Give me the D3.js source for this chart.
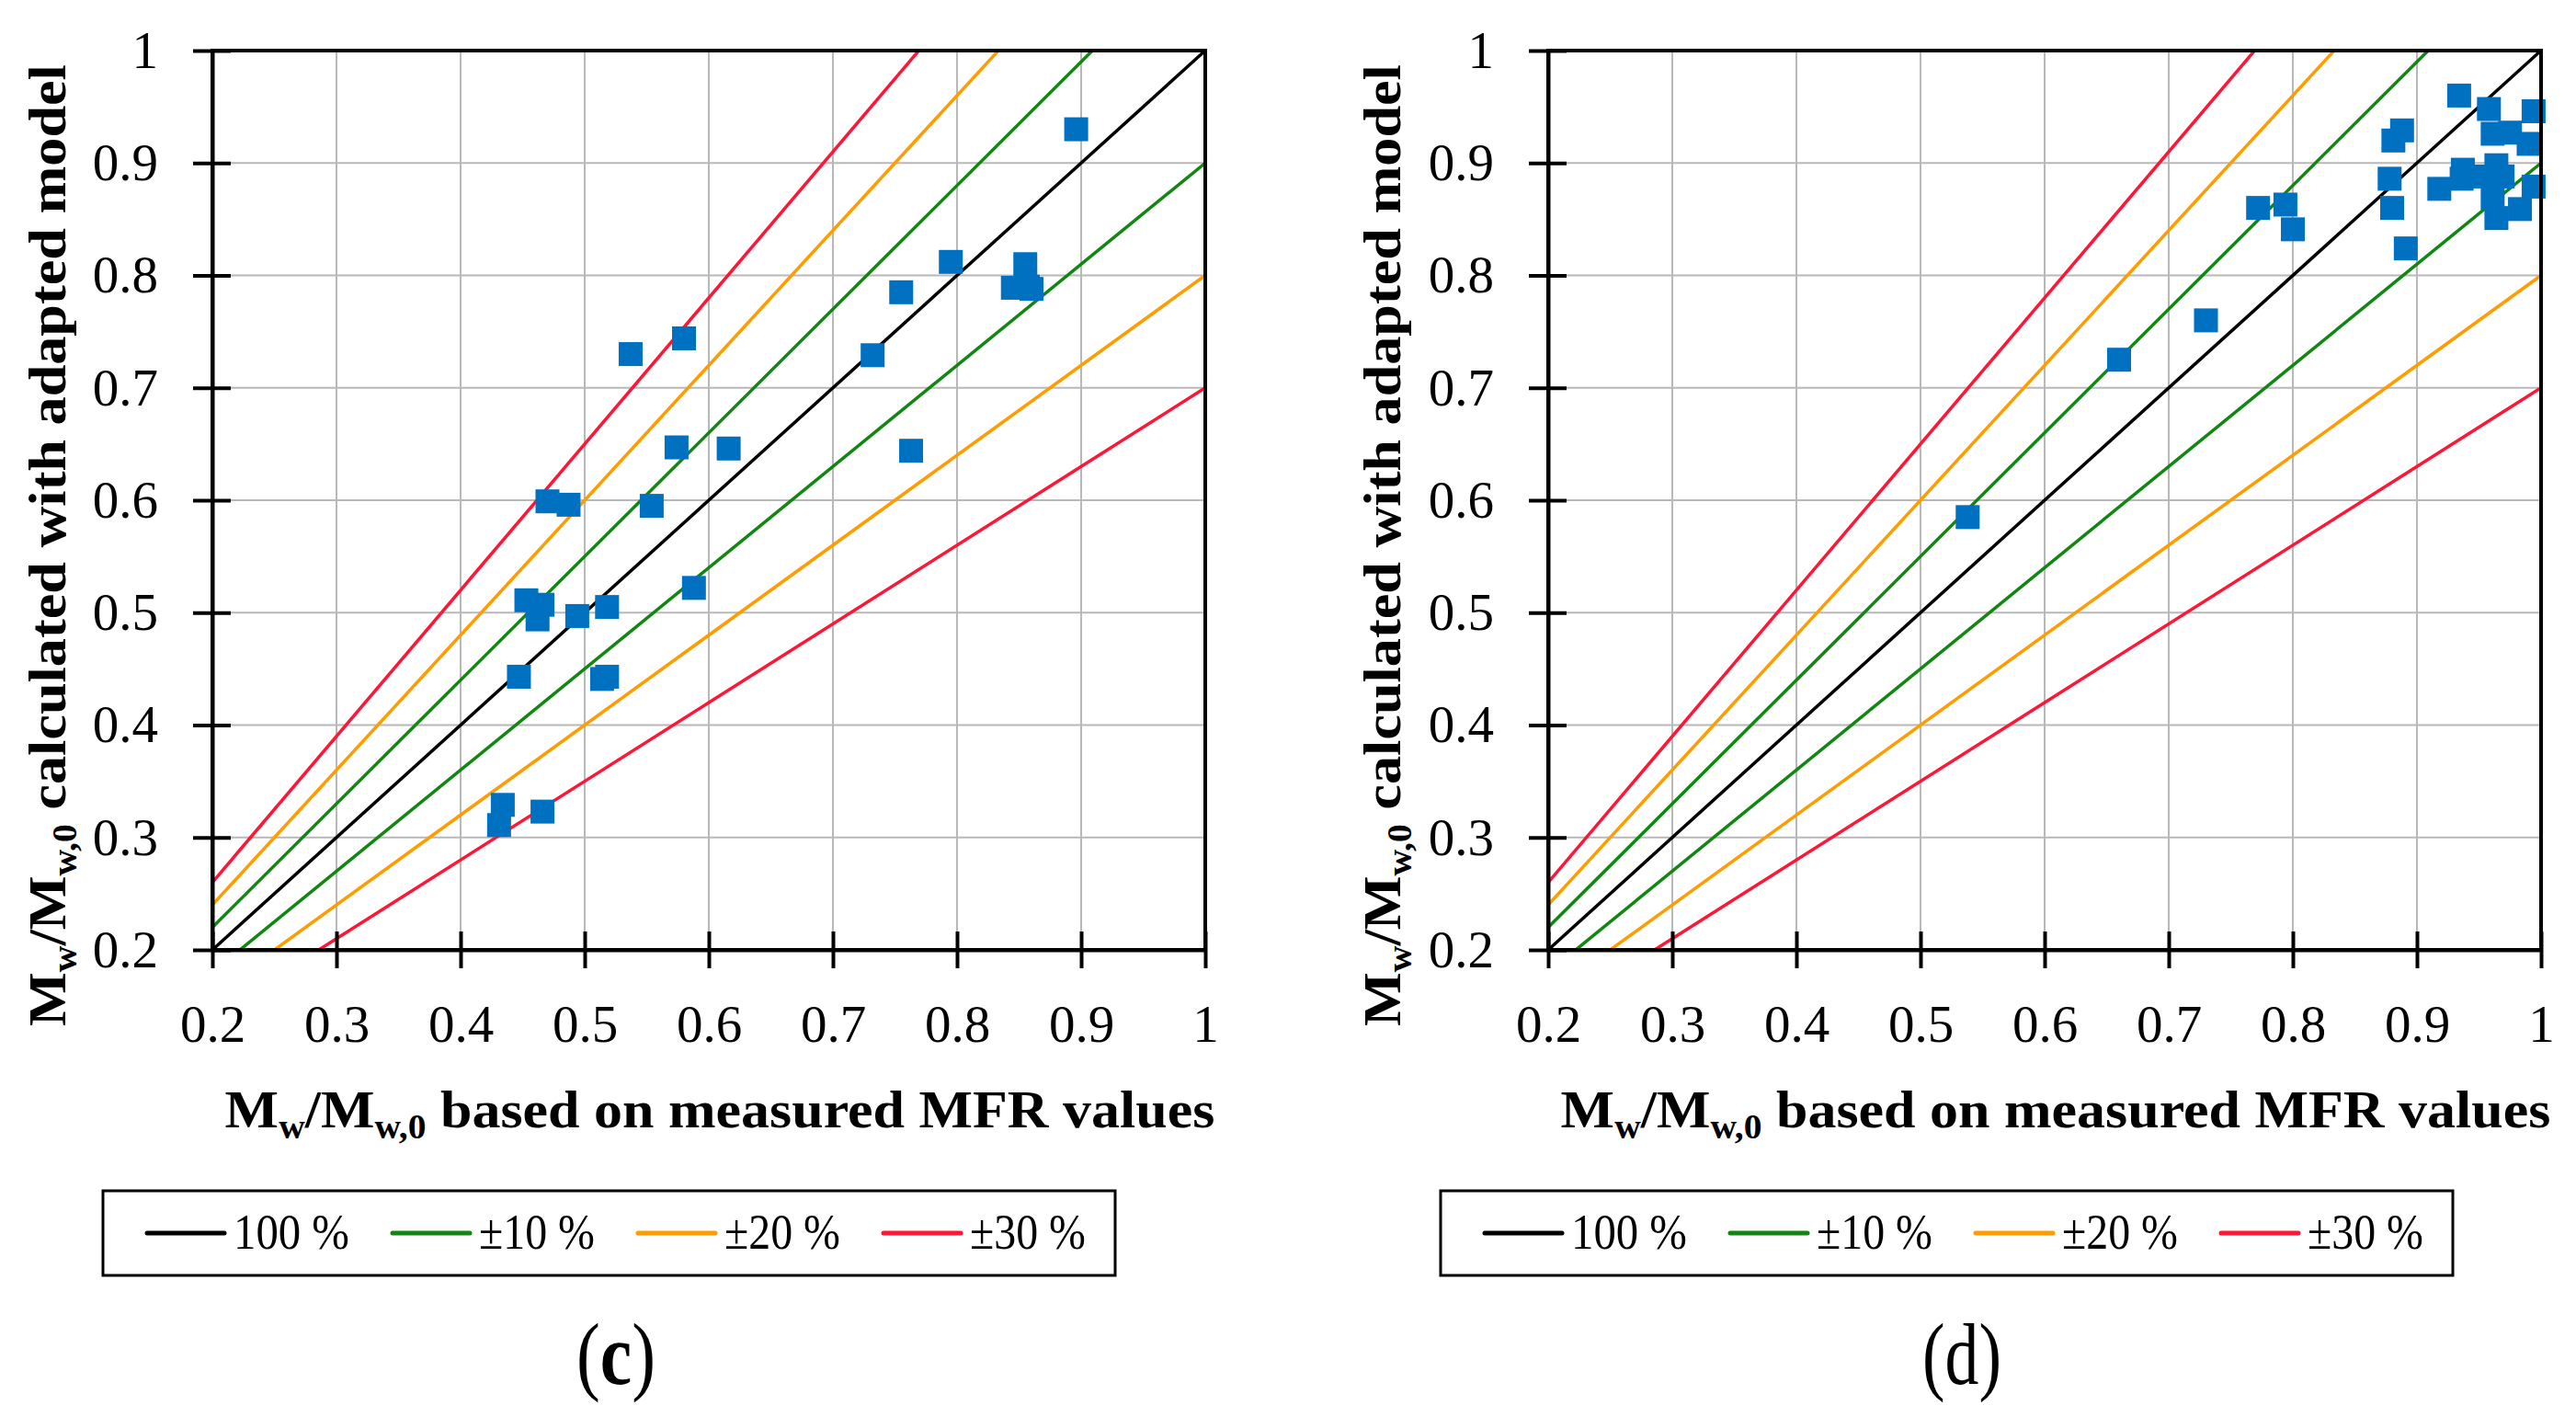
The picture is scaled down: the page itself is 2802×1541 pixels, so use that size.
<!DOCTYPE html>
<html lang="en">
<head>
<meta charset="utf-8">
<title>Mw/Mw,0 adapted model vs measured MFR</title>
<script src="https://d3js.org/d3.v7.min.js"></script>
<style>
  body { margin: 0; background: #fff; }
  text { font-family: "Liberation Serif", "Times New Roman", serif; fill: #000; }
  .axis-title { font-size: 58px; font-weight: bold; }
  .legend-label { font-size: 55px; }
  .panel-letter { font-size: 96px; }
</style>
</head>
<body>
<svg width="2802" height="1541"></svg>
<script>
// data
var tickValues = [0.2, 0.3, 0.4, 0.5, 0.6, 0.7, 0.8, 0.9, 1];
var tickLabels = ["0.2", "0.3", "0.4", "0.5", "0.6", "0.7", "0.8", "0.9", "1"];
var legendLabels = ["100 %", "\u00b110 %", "\u00b120 %", "\u00b130 %"];
var legendColors = ["#000000", "#128612", "#ff9c00", "#ff1535"];
var bandFactors = [[1], [1.1, 0.9], [1.2, 0.8], [1.3, 0.7]];

// panel (c): [measured, calculated]
var pointsC = [
  [0.896, 0.930], [0.795, 0.812], [0.755, 0.785], [0.855, 0.810],
  [0.845, 0.789], [0.857, 0.790], [0.860, 0.788], [0.732, 0.729],
  [0.763, 0.644], [0.580, 0.744], [0.537, 0.730], [0.574, 0.647],
  [0.616, 0.646], [0.554, 0.595], [0.470, 0.599], [0.487, 0.596],
  [0.453, 0.511], [0.466, 0.507], [0.462, 0.494], [0.494, 0.497],
  [0.518, 0.505], [0.588, 0.522], [0.447, 0.443], [0.514, 0.441],
  [0.518, 0.443], [0.434, 0.329], [0.431, 0.311], [0.466, 0.323]
];
// panel (d): [measured, calculated]
var pointsD = [
  [0.538, 0.585], [0.660, 0.725], [0.730, 0.760], [0.772, 0.860],
  [0.794, 0.863], [0.800, 0.841], [0.878, 0.886], [0.881, 0.920],
  [0.888, 0.929], [0.880, 0.860], [0.891, 0.824], [0.934, 0.960],
  [0.918, 0.877], [0.937, 0.894], [0.936, 0.886], [0.958, 0.948],
  [0.961, 0.926], [0.975, 0.927], [0.990, 0.917], [0.994, 0.946],
  [0.994, 0.879], [0.964, 0.898], [0.969, 0.888], [0.952, 0.888],
  [0.961, 0.869], [0.964, 0.851], [0.983, 0.859]
];
var panelLetters = ["c", "d"];

var svg = d3.select("svg");
svg.append("rect").attr("width", 2802).attr("height", 1541).attr("fill", "#fff");

var panels = [
  { x0: 231, data: pointsC, letter: panelLetters[0], bold: true, legendX: 112, yTitleX: 71, xTitleCx: 783, letterCx: 670 },
  { x0: 1684, data: pointsD, letter: panelLetters[1], bold: false, legendX: 1567, yTitleX: 1523, xTitleCx: 2236, letterCx: 2134 }
];
var plotW = 1080, plotTop = 55, plotBottom = 1033;
var mark = 26;

// squeeze a text horizontally to a target width
function fitWidth(textSel, target) {
  var w = textSel.node().getBBox().width;
  return target / w;
}

// writes "Mw/Mw,0" + rest as tspans
function writeTitle(t, rest) {
  t.append("tspan").text("M");
  t.append("tspan").attr("font-size", 37).attr("dy", 12).text("w");
  t.append("tspan").attr("dy", -12).text("/M");
  t.append("tspan").attr("font-size", 37).attr("dy", 12).text("w,0");
  t.append("tspan").attr("dy", -12).text(rest);
}

panels.forEach(function(p, pi) {
  var x = d3.scaleLinear().domain([0.2, 1]).range([p.x0, p.x0 + plotW]);
  var y = d3.scaleLinear().domain([0.2, 1]).range([plotBottom, plotTop]);
  var g = svg.append("g");

  // grid
  g.append("g").selectAll("line").data(tickValues).join("line")
    .attr("x1", d => x(d)).attr("x2", d => x(d))
    .attr("y1", plotTop).attr("y2", plotBottom)
    .attr("stroke", "#b8b8b8").attr("stroke-width", 2);
  g.append("g").selectAll("line").data(tickValues).join("line")
    .attr("x1", p.x0).attr("x2", p.x0 + plotW)
    .attr("y1", d => y(d)).attr("y2", d => y(d))
    .attr("stroke", "#b8b8b8").attr("stroke-width", 2);

  // reference lines, clipped to the plot
  var clipId = "clip" + pi;
  svg.append("clipPath").attr("id", clipId).append("rect")
    .attr("x", p.x0).attr("y", plotTop).attr("width", plotW).attr("height", plotBottom - plotTop);
  var lineG = g.append("g").attr("clip-path", "url(#" + clipId + ")");
  bandFactors.forEach(function(fs, i) {
    fs.forEach(function(f) {
      lineG.append("line")
        .attr("x1", x(0.2)).attr("y1", y(0.2 * f))
        .attr("x2", x(1)).attr("y2", y(1 * f))
        .attr("stroke", legendColors[i]).attr("stroke-width", 3.5);
    });
  });

  // points
  g.append("g").selectAll("rect").data(p.data).join("rect")
    .attr("x", d => x(d[0]) - mark / 2).attr("y", d => y(d[1]) - mark / 2)
    .attr("width", mark).attr("height", mark)
    .attr("fill", "#0070c0");

  // frame
  g.append("rect").attr("x", p.x0).attr("y", plotTop).attr("width", plotW).attr("height", plotBottom - plotTop)
    .attr("fill", "none").attr("stroke", "#000").attr("stroke-width", 4);

  // axes (ticks cross the axis line)
  var ya = g.append("g").attr("transform", "translate(" + p.x0 + ",0)")
    .call(d3.axisLeft(y).tickValues(tickValues).tickFormat((d, i) => tickLabels[i])
      .tickSizeInner(21).tickSizeOuter(0).tickPadding(38));
  ya.selectAll(".tick line").attr("x1", 20).attr("stroke-width", 4);
  ya.select(".domain").attr("stroke-width", 4);
  ya.selectAll("text").attr("font-size", 57).attr("font-family", "Liberation Serif");

  var xa = g.append("g").attr("transform", "translate(0," + plotBottom + ")")
    .call(d3.axisBottom(x).tickValues(tickValues).tickFormat((d, i) => tickLabels[i])
      .tickSizeInner(20).tickSizeOuter(0).tickPadding(40));
  xa.selectAll(".tick line").attr("y1", -20).attr("stroke-width", 4);
  xa.select(".domain").attr("stroke-width", 4);
  xa.selectAll("text").attr("font-size", 57).attr("font-family", "Liberation Serif");

  // axis titles
  var xt = svg.append("g").attr("transform", "translate(" + p.xTitleCx + ",1226)")
    .append("text").attr("class", "axis-title").attr("text-anchor", "middle");
  writeTitle(xt, " based on measured MFR values");
  xt.attr("transform", "scale(" + fitWidth(xt, 1077) + ",1)");

  var yt = svg.append("g").attr("transform", "translate(" + p.yTitleX + ",593) rotate(-90)")
    .append("text").attr("class", "axis-title").attr("text-anchor", "middle");
  writeTitle(yt, " calculated with adapted model");
  yt.attr("transform", "scale(" + fitWidth(yt, 1046) + ",1)");

  // legend
  var lg = svg.append("g").attr("transform", "translate(" + p.legendX + ",1295)");
  lg.append("rect").attr("width", 1101).attr("height", 92)
    .attr("fill", "#fff").attr("stroke", "#000").attr("stroke-width", 3);
  legendLabels.forEach(function(lab, i) {
    var ix = 48 + i * 267;
    lg.append("line").attr("x1", ix).attr("x2", ix + 84).attr("y1", 46).attr("y2", 46)
      .attr("stroke", legendColors[i]).attr("stroke-width", 5).attr("stroke-linecap", "round");
    lg.append("text").attr("class", "legend-label").attr("x", ix + 94).attr("y", 63)
      .attr("textLength", 126).attr("lengthAdjust", "spacingAndGlyphs").text(lab);
  });

  // panel letter
  var lt = svg.append("g").attr("transform", "translate(" + p.letterCx + ",1505)")
    .append("text").attr("class", "panel-letter").attr("text-anchor", "middle");
  lt.append("tspan").text("(");
  lt.append("tspan").attr("font-weight", p.bold ? "bold" : "normal").text(p.letter);
  lt.append("tspan").text(")");
  lt.attr("transform", "scale(" + fitWidth(lt, 86) + ",1)");
});
</script>
</body>
</html>
